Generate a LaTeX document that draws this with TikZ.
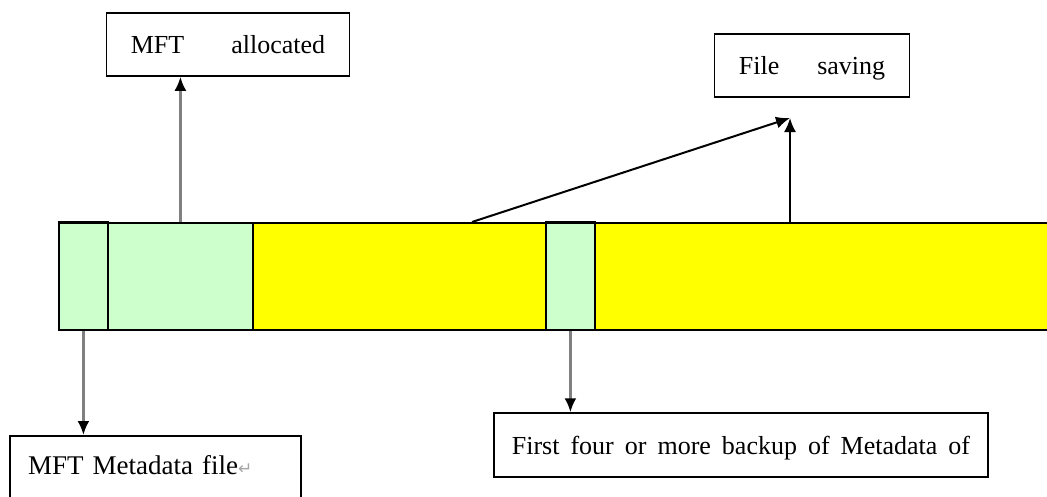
\documentclass[tikz,border=0pt]{standalone}
\usepackage{fontspec}
\setmainfont{Liberation Serif}
\newfontfamily\symfont{DejaVu Sans}
\usetikzlibrary{arrows.meta}
\definecolor{mgreen}{HTML}{CCFFCC}
\definecolor{myellow}{HTML}{FFFF00}
\definecolor{lgray}{HTML}{808080}
\begin{document}
\begin{tikzpicture}[x=1pt,y=-1pt,
  seg/.style={draw=black,line width=1.8pt,inner sep=0pt,anchor=north west,minimum height=107pt},
  gseg/.style={seg,fill=mgreen},
  yseg/.style={seg,fill=myellow},
  box/.style={draw=black,line width=1.5pt,fill=white,inner sep=0pt,text height=18pt,text depth=0pt,font=\fontsize{26}{30}\selectfont},
  conn/.style={draw=lgray,line width=2.6pt,-{Latex[black,length=14pt,width=12pt]}},
  bconn/.style={draw=black,line width=2pt,-{Latex[black,length=14pt,width=12pt]}}]
\useasboundingbox (0,0) rectangle (1047,496);
\fill[white] (0,0) rectangle (1047,496);
% bar
\node[gseg,minimum width=49pt] (s1) at (58,222) {};
\node[gseg,minimum width=145pt] (s2) at (107,222) {};
\node[yseg,minimum width=293pt] (s3) at (252,222) {};
\node[gseg,minimum width=49pt] (s4) at (545,222) {};
\node[yseg,minimum width=460pt] (s5) at (594,222) {};
\draw[line width=2.8pt] (s1.north west) -- (s1.north east);
\draw[line width=2.8pt] (s4.north west) -- (s4.north east);
% boxes
\node[box,minimum width=243pt,minimum height=63pt] (alloc) at (228,44.5) {MFT\hspace{47pt}allocated};
\node[box,minimum width=195pt,minimum height=63pt] (save) at (812,65.5) {File\hspace{38pt}saving};
\node[box,minimum width=494pt,minimum height=64pt] (first) at (741,445) {First\hspace{11pt}four\hspace{11pt}or\hspace{11pt}more\hspace{11pt}backup\hspace{11pt}of\hspace{11pt}Metadata\hspace{11pt}of};
\node[box,minimum width=291pt,minimum height=90pt,anchor=north west] (meta) at (9,435) {};
\node[anchor=base west,inner sep=0pt,font=\fontsize{27}{30}\selectfont] (metatext) at (28,474) {MFT\hspace{9pt}Metadata\hspace{9pt}file{\symfont\color{lgray!70}\fontsize{17}{18}\selectfont ↵}};
% connectors
\coordinate (fs) at (790,118);
\coordinate (p1) at (472,222);
\coordinate (p2) at (790,222);
\draw[conn] (s2.north) -- (s2.north |- alloc.south);
\draw[conn] (s1.south) -- (s1.south |- meta.north);
\draw[conn] (s4.south) -- (s4.south |- first.north);
\draw[bconn] (p1) -- (fs);
\draw[bconn] (p2) -- (fs);
\end{tikzpicture}
\end{document}
